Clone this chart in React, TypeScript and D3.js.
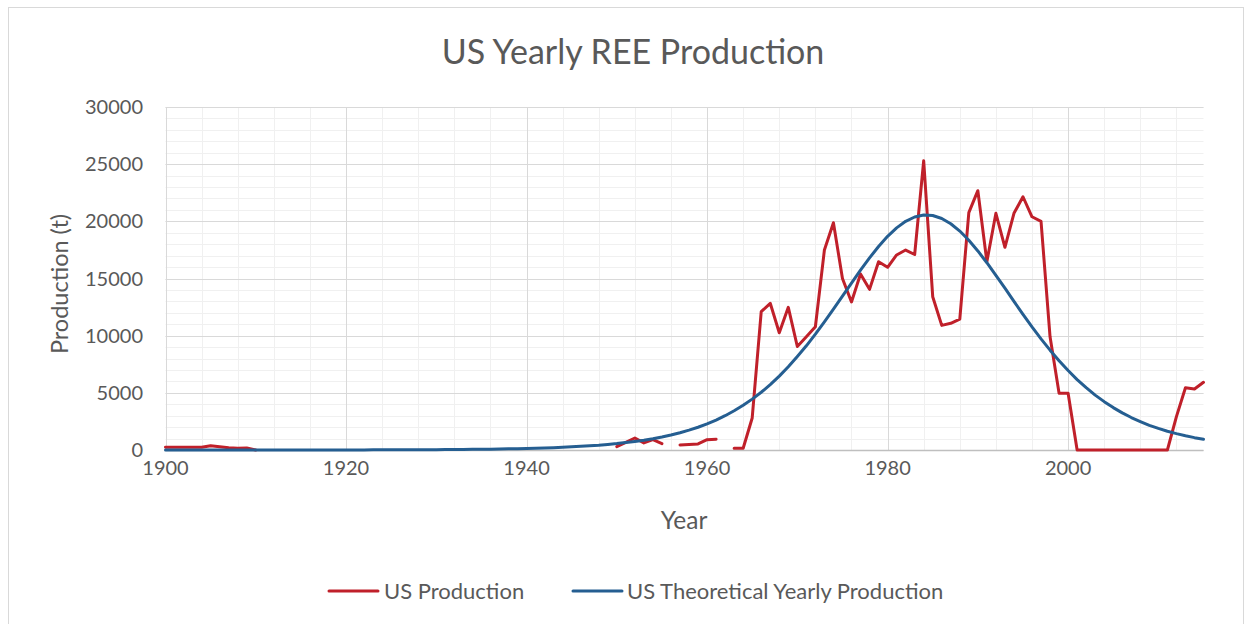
import React from 'react';
import * as d3 from 'd3';

// years on the x axis
const years = d3.range(1900, 2016);

// US Production (t), null where no data was reported
const usProduction = [
  250, 230, 230, 250, 240, 380, 290, 200, 150, 170, 0,
  null, null, null, null, null, null, null, null, null, null,
  null, null, null, null, null, null, null, null, null, null,
  null, null, null, null, null, null, null, null, null, null,
  null, null, null, null, null, null, null, null, null,
  300, 660, 1050, 620, 900, 550, null, 440, 480, 530, 900, 950, null, 150, 150,
  2800, 12100, 12830, 10250, 12480, 9050, 9900, 10780, 17490, 19880,
  15000, 12950, 15400, 14050, 16470, 15980, 17060, 17490, 17100, 25300,
  13410, 10900, 11080, 11450, 20760, 22680, 16470, 20700, 17730, 20700,
  22150, 20400, 20000, 9900, 4960, 4960,
  0, 0, 0, 0, 0, 0, 0, 0, 0, 0, 0,
  2920, 5450, 5340, 5920,
];

// US Theoretical Yearly Production (t)
const usTheoretical = [
  0, 0, 1, 1, 1, 1, 1, 1, 1, 1,
  2, 2, 2, 3, 3, 3, 4, 5, 5, 6,
  7, 8, 10, 11, 13, 15, 17, 20, 23, 27,
  31, 36, 42, 48, 56, 65, 75, 86, 100, 115,
  133, 154, 178, 206, 238, 275, 320, 370, 420, 490,
  560, 650, 750, 860, 990, 1140, 1310, 1510, 1740, 1990,
  2290, 2620, 3000, 3430, 3910, 4450, 5050, 5720, 6460, 7280,
  8180, 9110, 10130, 11200, 12320, 13460, 14600, 15730, 16800, 17800,
  18690, 19430, 20000, 20380, 20550, 20510, 20250, 19790, 19150, 18350,
  17410, 16380, 15280, 14150, 13000, 11870, 10770, 9720, 8730, 7800,
  6950, 6160, 5450, 4800, 4230, 3710, 3250, 2840, 2490, 2160,
  1890, 1640, 1430, 1240, 1080, 940,
];

const xTicks = [1900, 1920, 1940, 1960, 1980, 2000];
const yTicks = [0, 5000, 10000, 15000, 20000, 25000, 30000];

const W = 1252;
const H = 624;
const FONT = 'Lato, "Open Sans", sans-serif';
const TEXT = '#595959';
const RED = '#c0202a';
const BLUE = '#255e91';

export default function App() {
  const x = d3.scaleLinear().domain([1900, 2015]).range([165.5, 1203.5]);
  const y = d3.scaleLinear().domain([0, 30000]).range([450, 107]);

  const line = d3
    .line<number | null>()
    .defined((d) => d !== null)
    .x((_, i) => x(years[i]))
    .y((d) => y(d as number));

  const minorX = d3.range(1900, 2016, 4);
  const minorY = d3.range(0, 30001, 1000);

  return (
    <svg
      width={W}
      height={H}
      style={{ position: 'absolute', left: 0, top: 0, background: '#fff' }}
      fontFamily={FONT}
    >
      {/* chart frame */}
      <rect x={8.5} y={7.5} width={1235} height={640} fill="#fff" stroke="#d9d9d9" />

      <text x={633} y={64} textAnchor="middle" fontSize={34} fill={TEXT}>
        US Yearly REE Production
      </text>

      {/* minor grid */}
      <g stroke="#f0f0f0" strokeWidth={1}>
        {minorY.map((v) => (
          <line key={'my' + v} x1={x(1900)} x2={x(2015)} y1={Math.round(y(v)) + 0.5} y2={Math.round(y(v)) + 0.5} />
        ))}
        {minorX.map((v) => (
          <line key={'mx' + v} x1={Math.round(x(v)) + 0.5} x2={Math.round(x(v)) + 0.5} y1={y(30000)} y2={y(0)} />
        ))}
      </g>

      {/* major grid */}
      <g stroke="#d9d9d9" strokeWidth={1}>
        {yTicks.map((v) => (
          <line key={'y' + v} x1={x(1900)} x2={x(2015)} y1={Math.round(y(v)) + 0.5} y2={Math.round(y(v)) + 0.5} />
        ))}
        {xTicks.map((v) => (
          <line key={'x' + v} x1={Math.round(x(v)) + 0.5} x2={Math.round(x(v)) + 0.5} y1={y(30000)} y2={y(0)} />
        ))}
      </g>
      <line x1={x(1900)} x2={x(2015)} y1={450.5} y2={450.5} stroke="#bfbfbf" strokeWidth={1.5} />

      {/* tick labels */}
      {yTicks.map((v) => (
        <text key={'ty' + v} x={143} y={y(v) + 7} textAnchor="end" fontSize={20} fill={TEXT}>
          {v}
        </text>
      ))}
      {xTicks.map((v) => (
        <text key={'tx' + v} x={x(v)} y={475} textAnchor="middle" fontSize={20} fill={TEXT}>
          {v}
        </text>
      ))}

      {/* axis titles */}
      <text x={684} y={529} textAnchor="middle" fontSize={24.5} fill={TEXT}>
        Year
      </text>
      <text
        transform={`translate(68,284) rotate(-90)`}
        textAnchor="middle"
        fontSize={23.5}
        fill={TEXT}
      >
        Production (t)
      </text>

      {/* series */}
      <path d={line(usProduction) || ''} fill="none" stroke={RED} strokeWidth={3} strokeLinejoin="round" strokeLinecap="round" />
      <path d={line(usTheoretical) || ''} fill="none" stroke={BLUE} strokeWidth={3} strokeLinejoin="round" strokeLinecap="round" />

      {/* legend */}
      <line x1={329} x2={378} y1={591} y2={591} stroke={RED} strokeWidth={3} strokeLinecap="round" />
      <text x={384} y={599} fontSize={22} fill={TEXT}>
        US Production
      </text>
      <line x1={573} x2={622} y1={591} y2={591} stroke={BLUE} strokeWidth={3} strokeLinecap="round" />
      <text x={627} y={599} fontSize={22} fill={TEXT}>
        US Theoretical Yearly Production
      </text>
    </svg>
  );
}
